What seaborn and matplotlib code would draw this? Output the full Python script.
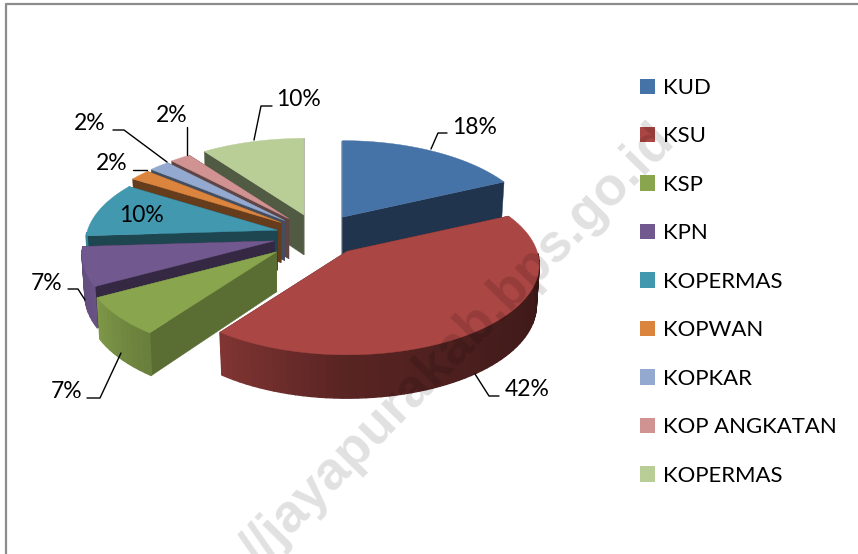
import numpy as np
import seaborn as sns
from matplotlib import pyplot as plt
from matplotlib.colors import to_rgb
from matplotlib.patches import Patch

# data
categories = ["KUD", "KSU", "KSP", "KPN", "KOPERMAS", "KOPWAN", "KOPKAR", "KOP ANGKATAN", "KOPERMAS"]
shares = [18, 42, 7, 7, 10, 2, 2, 2, 10]
percent_labels = ["18%", "42%", "7%", "7%", "10%", "2%", "2%", "2%", "10%"]
colors = ["#4572A7", "#AA4643", "#89A54E", "#71588F", "#4198AF", "#DB843D", "#93A9CF", "#D19392", "#B9CD96"]
watermark = "//jayapurakab.bps.go.id"

# 3d look of the pie, in pixels
CX, CY = 318, 235
RX, RY = 190, 88
PERSP = 0.15
DEPTH = 40
EXPLODE = [0.24, 0.24, 0.29, 0.24, 0.22, 0.24, 0.24, 0.24, 0.24]
CUT_SHADE = [0.46, 0.46, 0.66, 0.46, 0.46, 0.46, 0.46, 0.46, 0.44]
FONT = 15.9

sns.set_theme(style="white")
plt.rcParams["font.family"] = ["Lato", "DejaVu Sans"]

fig = plt.figure(figsize=(8.58, 5.54), dpi=100)
ax = fig.add_axes([0, 0, 1, 1])

# let pie work out the angles and offsets, then redraw each slice with depth
wedges, _ = ax.pie(shares, colors=colors, startangle=90, counterclock=False,
                   explode=EXPLODE, normalize=True)
geometry = [(w.theta1, w.theta2, w.center[0], w.center[1]) for w in wedges]
for w in wedges:
    w.remove()

ax.set_aspect("auto")
ax.set_xlim(0, 858)
ax.set_ylim(554, 0)
ax.axis("off")


def wall_shade(theta):
    # clockwise angle from the top of the pie -> brightness of the outer wall
    cw = (90 - theta) % 360
    return np.interp(cw, [65, 130, 180, 216, 241, 270], [0.30, 0.40, 0.52, 0.76, 0.92, 0.85])


def draw_slice(i, z):
    t1, t2, ox, oy = geometry[i]
    base = np.array(to_rgb(colors[i]))
    ax_ = CX + RX * ox
    ay_ = CY - RY * oy
    t = np.linspace(t1, t2, max(int((t2 - t1) / 2), 4))
    ux, uy = np.cos(np.radians(t)), np.sin(np.radians(t))
    s = 1 / (1 + PERSP * uy)
    x = ax_ + RX * ux * s
    y = ay_ - RY * uy * s
    xb = ax_ + (x - ax_) * 0.985
    yb = y + DEPTH * np.sqrt(s)

    # cut faces
    for k in (0, -1):
        ax.fill([ax_, x[k], xb[k], ax_], [ay_, y[k], yb[k], ay_ + DEPTH],
                color=base * CUT_SHADE[i], lw=0.3, zorder=z)
    # outer wall, only the part that faces us
    for k in range(len(t) - 1):
        if uy[k] > -0.05 and uy[k + 1] > -0.05:
            continue
        c = base * wall_shade((t[k] + t[k + 1]) / 2)
        ax.fill([x[k], x[k + 1], xb[k + 1], xb[k]], [y[k], y[k + 1], yb[k + 1], yb[k]],
                color=c, lw=1.0, zorder=z + 0.1)
    # top
    ax.fill(np.r_[ax_, x], np.r_[ay_, y], color=base, lw=0.3, zorder=z + 0.2)


# far slices first, near ones on top
for z, i in enumerate([8, 7, 6, 5, 4, 3, 2, 0, 1]):
    draw_slice(i, z + 2)

# data labels with their leader lines
label_pos = [(475, 127), (527, 390), (67, 391), (47, 284), (141, 215), (112, 163), (90, 123), (172, 115), (298, 99)]
leaders = [
    [(431, 149), (438, 133), (447, 133)],
    [(475, 374), (489, 396), (499, 396)],
    [(121, 353), (100, 398), (87, 398)],
    [(85, 300), (78, 289), (68, 289)],
    None,
    [(133, 170), (147, 170)],
    [(113, 130), (124, 130), (167, 162)],
    [(187, 127), (187, 155)],
    [(254, 140), (261, 106), (272, 106)],
]
for txt, pos, line in zip(percent_labels, label_pos, leaders):
    ax.text(pos[0], pos[1], txt, fontsize=FONT + 0.6, color="black", ha="center", va="center", zorder=20)
    if line:
        ax.plot(*zip(*line), color="black", lw=1.0, zorder=20)

handles = [Patch(facecolor=c, edgecolor="none") for c in colors]
ax.legend(handles, categories, loc="upper left", bbox_to_anchor=(0.746, 0.8595), frameon=False,
          fontsize=FONT, handlelength=0.68, handleheight=0.68, handletextpad=0.36,
          labelspacing=1.29, borderpad=0, borderaxespad=0, labelcolor="black")

# chart frame
ax.plot([5.5, 5.5, 858], [554, 4, 4], color="#8C8C8C", lw=1.6, zorder=1, clip_on=True)

ax.text(676, 143, watermark, fontsize=38.5, family="Liberation Sans", fontweight="bold", color="black", alpha=0.12,
        rotation=45.5, rotation_mode="anchor", ha="right", va="baseline", zorder=30, clip_on=True)

fig.savefig("out.png", dpi=100)
